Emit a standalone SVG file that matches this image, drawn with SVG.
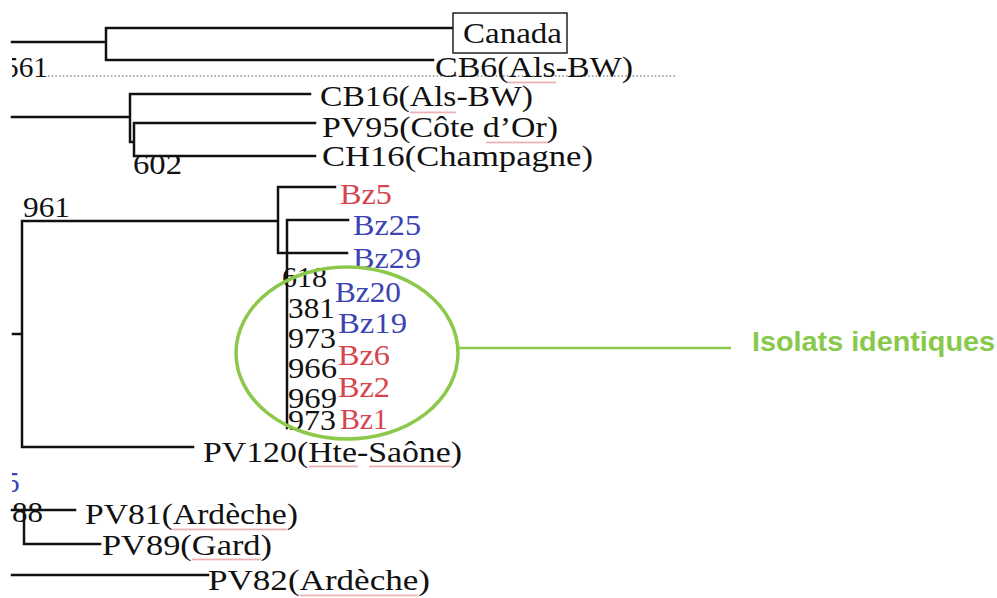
<svg xmlns="http://www.w3.org/2000/svg" width="997" height="598" viewBox="0 0 997 598">
<defs>
<style>
.t{font-family:"Liberation Serif","Times New Roman",serif;font-size:29.5px;fill:#111}
.r{fill:#d6444f}
.b{fill:#3c43b3}
.br{fill:none;stroke:#111;stroke-width:2.5;stroke-linecap:square}
.lbl{font-family:"Liberation Sans",Arial,sans-serif;font-weight:bold;font-size:28.5px;fill:#87c94b}
.wv{fill:url(#wave);opacity:0.75}
</style>
<pattern id="wave" width="4" height="3" patternUnits="userSpaceOnUse">
<path d="M0 2.5 L1 0.5 L2 2.5 L3 0.5 L4 2.5" fill="none" stroke="#d97070" stroke-width="0.7"/>
</pattern>
<clipPath id="crop"><rect x="12" y="0" width="985" height="598"/></clipPath>
</defs>
<rect width="997" height="598" fill="#fff"/>

<line x1="48" y1="76" x2="677" y2="76" stroke="#8a8a8a" stroke-width="1.3" stroke-dasharray="1.5 2.2"/>

<g id="connectors">
<path class="br" d="M12 42H106M106 28V60M106 28H453M106 60H433"/>
<path class="br" d="M12 117H130M130 94V142H134M130 94H310M134 123V156M134 123H315M134 156H315"/>
<path class="br" d="M13 334H22M22 221V447M22 221H278M278 187V253M278 187H335M287 220V428M287 220H348M278 253H347M22 447H193"/>
<path class="br" d="M12 510H75M24 510V544H100M12 575H208"/>
</g>

<g id="node-canada">
<rect x="453" y="13" width="114" height="40" fill="#fff" stroke="#222" stroke-width="1.5"/>
<text class="t" x="463" y="43" textLength="99" lengthAdjust="spacingAndGlyphs">Canada</text>
</g>
<g id="node-cb6"><text class="t" x="435" y="77" textLength="198" lengthAdjust="spacingAndGlyphs">CB6(Als-BW)</text><rect class="wv" x="508" y="81" width="48" height="3"/></g>
<g id="node-561"><text class="t" x="4" y="77" textLength="44" lengthAdjust="spacingAndGlyphs" clip-path="url(#crop)">561</text></g>
<g id="node-cb16"><text class="t" x="320" y="106" textLength="213" lengthAdjust="spacingAndGlyphs">CB16(Als-BW)</text><rect class="wv" x="410" y="111" width="46" height="3"/></g>
<g id="node-pv95"><text class="t" x="322" y="137" textLength="236" lengthAdjust="spacingAndGlyphs">PV95(Côte d’Or)</text><rect class="wv" x="486" y="141" width="62" height="3"/></g>
<g id="node-ch16"><text class="t" x="322" y="166" textLength="271" lengthAdjust="spacingAndGlyphs">CH16(Champagne)</text></g>
<g id="node-602"><text class="t" x="133" y="174" textLength="49" lengthAdjust="spacingAndGlyphs">602</text></g>
<g id="node-961"><text class="t" x="23" y="217" textLength="47" lengthAdjust="spacingAndGlyphs">961</text></g>

<g id="node-bz5"><text class="t r" x="340" y="204" textLength="52" lengthAdjust="spacingAndGlyphs">Bz5</text></g>
<g id="node-bz25"><text class="t b" x="353" y="235" textLength="68" lengthAdjust="spacingAndGlyphs">Bz25</text></g>
<g id="node-bz29"><text class="t b" x="353" y="268" textLength="68" lengthAdjust="spacingAndGlyphs">Bz29</text></g>
<g id="node-618"><text class="t" x="282" y="287" textLength="45" lengthAdjust="spacingAndGlyphs">618</text></g>
<g id="node-bz20"><text class="t b" x="335" y="302" textLength="66" lengthAdjust="spacingAndGlyphs">Bz20</text></g>
<g id="node-381"><text class="t" x="288" y="318" textLength="47" lengthAdjust="spacingAndGlyphs">381</text></g>
<g id="node-bz19"><text class="t b" x="338" y="333" textLength="69" lengthAdjust="spacingAndGlyphs">Bz19</text></g>
<g id="node-973a"><text class="t" x="288" y="348" textLength="48" lengthAdjust="spacingAndGlyphs">973</text></g>
<g id="node-bz6"><text class="t r" x="338" y="365" textLength="52" lengthAdjust="spacingAndGlyphs">Bz6</text></g>
<g id="node-966"><text class="t" x="288" y="378" textLength="49" lengthAdjust="spacingAndGlyphs">966</text></g>
<g id="node-bz2"><text class="t r" x="338" y="397" textLength="52" lengthAdjust="spacingAndGlyphs">Bz2</text></g>
<g id="node-969"><text class="t" x="288" y="408" textLength="49" lengthAdjust="spacingAndGlyphs">969</text></g>
<g id="node-973b"><text class="t" x="288" y="430" textLength="48" lengthAdjust="spacingAndGlyphs">973</text></g>
<g id="node-bz1"><text class="t r" x="340" y="429" textLength="48" lengthAdjust="spacingAndGlyphs">Bz1</text></g>

<g id="node-pv120"><text class="t" x="203" y="462" textLength="259" lengthAdjust="spacingAndGlyphs">PV120(Hte-Saône)</text><rect class="wv" x="309" y="465" width="49" height="3"/><rect class="wv" x="369" y="465" width="83" height="3"/></g>
<g id="node-5"><text class="t b" x="5" y="492" clip-path="url(#crop)">5</text></g>
<g id="node-88"><text class="t" x="12" y="522" textLength="31" lengthAdjust="spacingAndGlyphs">88</text></g>
<g id="node-pv81"><text class="t" x="85" y="524" textLength="213" lengthAdjust="spacingAndGlyphs">PV81(Ardèche)</text><rect class="wv" x="173" y="528" width="114" height="3"/></g>
<g id="node-pv89"><text class="t" x="102" y="555" textLength="170" lengthAdjust="spacingAndGlyphs">PV89(Gard)</text><rect class="wv" x="192" y="558" width="69" height="3"/></g>
<g id="node-pv82"><text class="t" x="208" y="590" textLength="222" lengthAdjust="spacingAndGlyphs">PV82(Ardèche)</text><rect class="wv" x="300" y="594" width="118" height="3"/></g>

<g id="annotation-isolats">
<ellipse cx="347" cy="353" rx="111" ry="86" fill="none" stroke="#8cc84b" stroke-width="3.5"/>
<line x1="458" y1="348" x2="731" y2="348" stroke="#8cc84b" stroke-width="2.5"/>
<text class="lbl" x="752" y="351" textLength="243" lengthAdjust="spacingAndGlyphs">Isolats identiques</text>
</g>
</svg>
